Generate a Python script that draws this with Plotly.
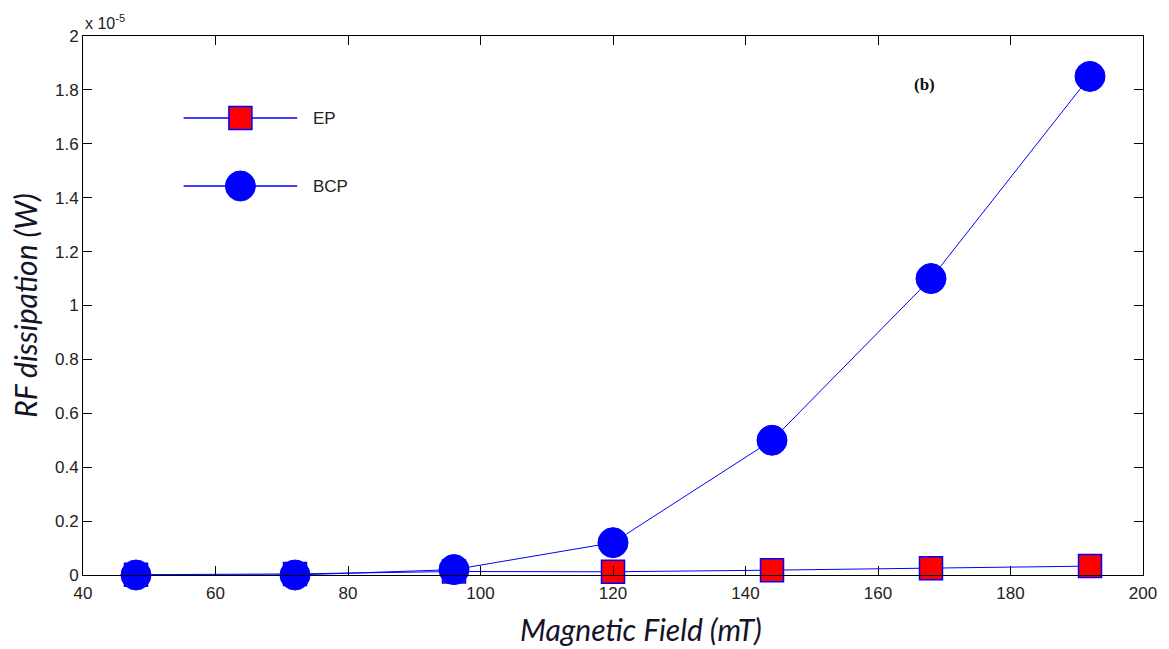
import plotly.graph_objects as go

# Magnetic field (mT) and RF dissipation (W, in units of 1e-5)
field_mt = [48, 72, 96, 120, 144, 168, 192]
ep_dissipation = [0.001, 0.004, 0.013, 0.012, 0.018, 0.025, 0.033]
bcp_dissipation = [0.0, 0.0, 0.02, 0.12, 0.50, 1.10, 1.85]

x_ticks = [40, 60, 80, 100, 120, 140, 160, 180, 200]
y_ticks = [0, 0.2, 0.4, 0.6, 0.8, 1.0, 1.2, 1.4, 1.6, 1.8, 2.0]
y_ticktext = ["0", "0.2", "0.4", "0.6", "0.8", "1", "1.2", "1.4", "1.6", "1.8", "2"]

LINE_BLUE = "#0000ff"
TICK_FONT = dict(family="Liberation Sans, Arial, sans-serif", size=17, color="#222222")
TITLE_FONT = dict(family="Lato, Open Sans, sans-serif", size=30, color="#141428")

W, H = 1169, 649
ML, MR, MT, MB = 83, 22, 36, 74

fig = go.Figure()

fig.add_trace(go.Scatter(
    x=field_mt, y=ep_dissipation, mode="lines+markers", name="EP",
    line=dict(color=LINE_BLUE, width=1),
    marker=dict(symbol="square", size=23, color="#ff0000",
                line=dict(color=LINE_BLUE, width=1.5)),
    cliponaxis=False, showlegend=False,
))
fig.add_trace(go.Scatter(
    x=field_mt, y=bcp_dissipation, mode="lines+markers", name="BCP",
    line=dict(color=LINE_BLUE, width=1),
    marker=dict(symbol="circle", size=30, color=LINE_BLUE,
                line=dict(color=LINE_BLUE, width=1)),
    cliponaxis=False, showlegend=False,
))

# Hand-drawn legend on an overlay axis measured in pixels
plot_x0, plot_x1 = ML, W - MR
plot_y0, plot_y1 = H - MB, MT
legend_rows = [
    ("EP", 118, dict(symbol="square", size=23, color="#ff0000",
                     line=dict(color=LINE_BLUE, width=1.5))),
    ("BCP", 186, dict(symbol="circle", size=30, color=LINE_BLUE,
                      line=dict(color=LINE_BLUE, width=1))),
]
for label, ypix, mk in legend_rows:
    fig.add_trace(go.Scatter(
        x=[184, 298], y=[ypix, ypix], mode="lines",
        line=dict(color=LINE_BLUE, width=1.5),
        xaxis="x2", yaxis="y2", showlegend=False, hoverinfo="skip",
    ))
    fig.add_trace(go.Scatter(
        x=[241], y=[ypix], mode="markers", marker=mk,
        xaxis="x2", yaxis="y2", showlegend=False, hoverinfo="skip",
    ))
    fig.add_annotation(
        x=312, y=ypix, xref="x2", yref="y2", text=label, showarrow=False,
        xanchor="left", yanchor="middle", font=TICK_FONT,
    )

fig.update_layout(
    width=W, height=H,
    margin=dict(l=ML, r=MR, t=MT, b=MB),
    paper_bgcolor="white", plot_bgcolor="white",
    xaxis=dict(
        range=[40, 200], tickvals=x_ticks, ticks="inside", ticklen=9,
        tickcolor="black", showline=True, linecolor="black", linewidth=1,
        mirror="allticks", showgrid=False, zeroline=False,
        tickfont=TICK_FONT, ticklabelstandoff=3,
    ),
    yaxis=dict(
        range=[0, 2], tickvals=y_ticks, ticktext=y_ticktext, ticks="inside",
        ticklen=9, tickcolor="black", showline=True, linecolor="black",
        linewidth=1, mirror="allticks", showgrid=False, zeroline=False,
        tickfont=TICK_FONT,
        title=dict(text="<i>RF dissipation (W)</i>", font=TITLE_FONT, standoff=8),
    ),
    xaxis2=dict(range=[plot_x0, plot_x1], overlaying="x", visible=False,
                fixedrange=True),
    yaxis2=dict(range=[plot_y0, plot_y1], overlaying="y", visible=False,
                fixedrange=True),
    showlegend=False,
)

# x-axis title, set slightly right of the plot centre
fig.add_annotation(
    x=643, y=0, xref="x2", yref="paper", yanchor="top", yshift=-34,
    text="<i>Magnetic Field (mT)</i>", showarrow=False, font=TITLE_FONT,
)
fig.add_annotation(
    x=0, y=1, xref="paper", yref="paper", xanchor="left", yanchor="bottom",
    text="x 10<sup>-5</sup>", showarrow=False, yshift=2,
    font=dict(family="Liberation Sans, Arial, sans-serif", size=16, color="#222222"),
)
fig.add_annotation(
    x=928, y=84, xref="x2", yref="y2", text="<b>(b)</b>", showarrow=False,
    font=dict(family="Liberation Serif, Times New Roman, serif", size=17, color="#111111"),
)

fig.write_html("out.html")
